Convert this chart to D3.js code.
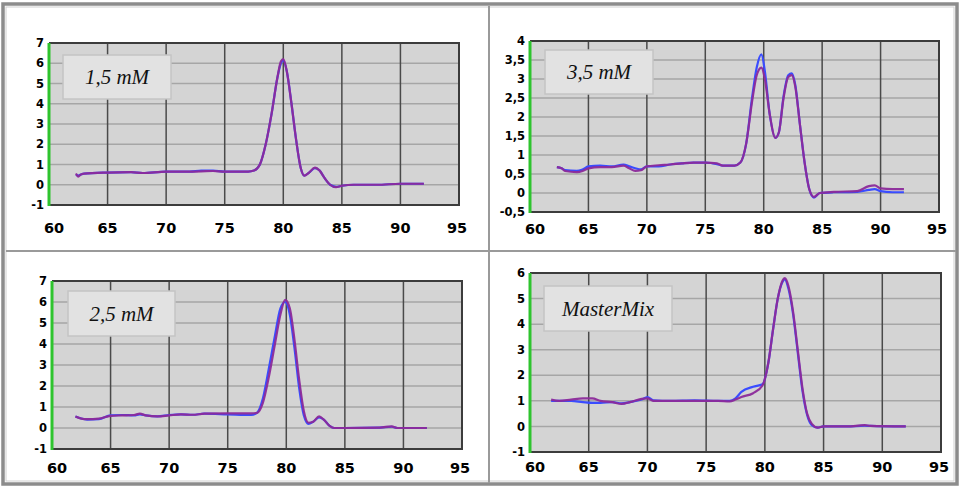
<!DOCTYPE html>
<html>
<head>
<meta charset="utf-8">
<script src="https://cdnjs.cloudflare.com/ajax/libs/d3/7.8.5/d3.min.js"></script>
<style>
  body { margin: 0; background: #fff; }
  svg { display: block; }
  .lbl { font-family: "Liberation Serif", "Times New Roman", serif; font-style: italic; font-size: 21px; fill: #111; }
  svg text.tky { font-family: "DejaVu Sans", Verdana, sans-serif; font-weight: bold; font-size: 11.5px; fill: #000; }
  svg text.tkx { font-family: "DejaVu Sans", Verdana, sans-serif; font-weight: bold; font-size: 14.5px; fill: #000; }
</style>
</head>
<body>
<div id="chart"></div>
<script>
// x axis ticks shared by all four panels
var xTicks = [60, 65, 70, 75, 80, 85, 90, 95];

// 1,5 mM
var t15 = [62.3, 62.5, 62.7, 63, 65, 67, 68, 70, 72, 73, 74, 75, 77, 77.5, 78, 78.5, 79, 79.5, 79.8, 80, 80.3, 80.7, 81.1, 81.5, 81.8, 82.2, 82.7, 83.1, 83.5, 84, 84.5, 85, 86, 88, 90, 92];
var p15 = [0.55, 0.4, 0.5, 0.55, 0.6, 0.62, 0.58, 0.65, 0.65, 0.66, 0.68, 0.65, 0.65, 0.7, 1.0, 2.0, 3.5, 5.3, 6.1, 6.2, 5.6, 4.0, 2.2, 0.8, 0.45, 0.6, 0.85, 0.7, 0.35, 0.0, -0.12, -0.05, 0.0, 0.0, 0.05, 0.05];
var b15 = [0.5, 0.45, 0.5, 0.55, 0.6, 0.62, 0.58, 0.65, 0.65, 0.7, 0.7, 0.65, 0.65, 0.7, 1.0, 2.0, 3.5, 5.3, 6.0, 6.15, 5.6, 4.0, 2.2, 0.8, 0.45, 0.6, 0.82, 0.7, 0.35, 0.0, -0.1, -0.05, 0.0, 0.0, 0.05, 0.05];

// 3,5 mM
var t35 = [62.3, 62.7, 63, 64, 64.5, 65, 66, 67, 68, 68.5, 69, 69.5, 70, 71, 72, 73, 74, 75, 76, 76.5, 77.5, 78, 78.5, 79, 79.4, 79.8, 80.1, 80.5, 81, 81.3, 81.7, 82.1, 82.4, 82.7, 83.1, 83.5, 83.9, 84.3, 84.8, 86, 88, 89, 89.5, 90, 91, 92];
var p35 = [0.68, 0.65, 0.58, 0.55, 0.58, 0.65, 0.68, 0.68, 0.72, 0.65, 0.58, 0.6, 0.7, 0.73, 0.75, 0.78, 0.8, 0.8, 0.78, 0.72, 0.72, 0.8, 1.3, 2.4, 3.1, 3.3, 3.0, 2.1, 1.45, 1.6, 2.5, 3.05, 3.1, 2.8, 1.8, 0.8, 0.1, -0.1, 0.0, 0.03, 0.05, 0.18, 0.2, 0.12, 0.1, 0.1];
var b35 = [0.68, 0.65, 0.6, 0.58, 0.62, 0.7, 0.72, 0.7, 0.75, 0.7, 0.65, 0.62, 0.7, 0.7, 0.75, 0.78, 0.8, 0.8, 0.76, 0.72, 0.72, 0.8, 1.3, 2.5, 3.3, 3.65, 3.2, 2.1, 1.45, 1.6, 2.55, 3.1, 3.15, 2.85, 1.8, 0.8, 0.1, -0.12, 0.0, 0.02, 0.03, 0.08, 0.1, 0.05, 0.02, 0.02];

// 2,5 mM
var t25 = [62, 62.5, 63, 64, 65, 66, 67, 67.5, 68, 69, 70, 71, 72, 73, 75, 77, 77.5, 78, 78.5, 79, 79.5, 79.9, 80.3, 80.7, 81.1, 81.5, 81.9, 82.3, 82.8, 83.2, 83.7, 84.1, 85, 88, 89, 89.5, 92];
var p25 = [0.55, 0.45, 0.42, 0.45, 0.58, 0.6, 0.62, 0.68, 0.6, 0.55, 0.6, 0.65, 0.63, 0.68, 0.7, 0.7, 0.72, 1.2, 2.4, 3.9, 5.4, 6.1, 5.7, 4.2, 2.3, 0.8, 0.25, 0.3, 0.55, 0.4, 0.1, 0.0, 0.0, 0.02, 0.08, 0.0, 0.0];
var b25 = [0.55, 0.45, 0.4, 0.42, 0.6, 0.62, 0.6, 0.65, 0.6, 0.55, 0.62, 0.65, 0.63, 0.68, 0.65, 0.62, 0.72, 1.4, 2.8, 4.3, 5.7, 6.0, 5.4, 3.8, 1.9, 0.6, 0.2, 0.3, 0.5, 0.4, 0.1, 0.0, 0.0, 0.02, 0.06, 0.0, 0.0];

// MasterMix
var tMM = [61.8, 62.5, 63.5, 64.5, 65.3, 66, 67, 67.8, 68.5, 69.5, 70, 70.5, 72, 74, 76, 77, 77.5, 78, 79, 79.8, 80.3, 80.7, 81.1, 81.5, 81.7, 82, 82.4, 82.8, 83.2, 83.6, 84, 84.5, 85, 87, 88.5, 89, 92];
var pMM = [1.05, 1.0, 1.05, 1.1, 1.1, 1.0, 0.95, 0.88, 0.95, 1.08, 1.1, 1.0, 1.0, 1.0, 1.0, 0.98, 1.05, 1.15, 1.3, 1.6, 2.5, 3.8, 5.0, 5.7, 5.8, 5.5, 4.5, 3.0, 1.5, 0.5, 0.1, -0.05, 0.0, 0.0, 0.05, 0.02, 0.0];
var bMM = [1.0, 1.0, 1.0, 0.95, 0.92, 0.92, 0.95, 0.9, 0.95, 1.05, 1.15, 1.02, 1.0, 1.02, 1.0, 1.0, 1.1, 1.35, 1.55, 1.65, 2.5, 3.8, 5.0, 5.65, 5.75, 5.4, 4.4, 2.9, 1.4, 0.45, 0.05, -0.05, 0.0, 0.0, 0.03, 0.02, 0.0];

var yTicks15 = [-1, 0, 1, 2, 3, 4, 5, 6, 7];
var yTicks35 = [-0.5, 0, 0.5, 1, 1.5, 2, 2.5, 3, 3.5, 4];
var yTicksMM = [-1, 0, 1, 2, 3, 4, 5, 6];

var panels = [
  {name: "1,5 mM", t: t15, p: p15, b: b15, ticks: yTicks15, x: 49, y: 43, w: 410, h: 162, labGap: 23, box: [63, 55, 108, 44]},
  {name: "3,5 mM", t: t35, p: p35, b: b35, ticks: yTicks35, x: 530, y: 41, w: 409, h: 171, labGap: 17, box: [545, 50, 108, 44]},
  {name: "2,5 mM", t: t25, p: p25, b: b25, ticks: yTicks15, x: 52, y: 281, w: 410, h: 168, labGap: 19, box: [68, 291, 107, 45]},
  {name: "MasterMix", t: tMM, p: pMM, b: bMM, ticks: yTicksMM, x: 530, y: 273, w: 411, h: 179, labGap: 15, box: [544, 286, 128, 45]}
];

var W = 960, H = 487;
var svg = d3.select("#chart").append("svg").attr("width", W).attr("height", H);

// frame and dividers
svg.append("rect").attr("x", 3).attr("y", 4).attr("width", W - 6).attr("height", H - 7)
  .attr("fill", "none").attr("stroke", "#8c8c8c").attr("stroke-width", 3.5);
svg.append("rect").attr("x", 6).attr("y", 7).attr("width", W - 12).attr("height", H - 13)
  .attr("fill", "none").attr("stroke", "#d0d0d0").attr("stroke-width", 1);
svg.append("line").attr("x1", 489).attr("x2", 489).attr("y1", 6).attr("y2", H - 4)
  .attr("stroke", "#9a9a9a").attr("stroke-width", 2);
svg.append("line").attr("x1", 6).attr("x2", W - 4).attr("y1", 251).attr("y2", 251)
  .attr("stroke", "#9a9a9a").attr("stroke-width", 2);

function fmt(d) { return String(d).replace(".", ","); }

panels.forEach(function(pn) {
  var x = d3.scaleLinear().domain([60, 95]).range([pn.x, pn.x + pn.w]);
  var y = d3.scaleLinear().domain(d3.extent(pn.ticks)).range([pn.y + pn.h, pn.y]);
  var g = svg.append("g");

  g.append("rect").attr("x", pn.x).attr("y", pn.y).attr("width", pn.w).attr("height", pn.h)
    .attr("fill", "#d4d4d4");

  // horizontal grid
  g.selectAll(".hg").data(pn.ticks).enter().append("line")
    .attr("x1", pn.x).attr("x2", pn.x + pn.w)
    .attr("y1", function(d) { return y(d); }).attr("y2", function(d) { return y(d); })
    .attr("stroke", "#a6a6a6").attr("stroke-width", 1.5);
  // vertical grid
  g.selectAll(".vg").data(xTicks).enter().append("line")
    .attr("x1", function(d) { return x(d); }).attr("x2", function(d) { return x(d); })
    .attr("y1", pn.y).attr("y2", pn.y + pn.h)
    .attr("stroke", "#4a4a4a").attr("stroke-width", 1.5);

  // plot border (top, right, bottom)
  g.append("path")
    .attr("d", "M" + pn.x + "," + pn.y + "H" + (pn.x + pn.w) + "V" + (pn.y + pn.h) + "H" + pn.x)
    .attr("fill", "none").attr("stroke", "#3c3c3c").attr("stroke-width", 2);

  // label box
  g.append("rect").attr("x", pn.box[0]).attr("y", pn.box[1]).attr("width", pn.box[2]).attr("height", pn.box[3])
    .attr("fill", "#e2e2e2").attr("stroke", "#c4c4c4").attr("stroke-width", 1.5);
  g.append("text").attr("class", "lbl")
    .attr("x", pn.box[0] + pn.box[2] / 2).attr("y", pn.box[1] + pn.box[3] / 2 + 7)
    .attr("text-anchor", "middle").text(pn.name);

  // curves
  var line = d3.line()
    .x(function(d, i) { return x(pn.t[i]); })
    .y(function(d) { return y(d); })
    .curve(d3.curveMonotoneX);
  g.append("path").datum(pn.b).attr("d", line)
    .attr("fill", "none").attr("stroke", "#3a4cff").attr("stroke-width", 2.2);
  g.append("path").datum(pn.p).attr("d", line)
    .attr("fill", "none").attr("stroke", "#8c2a9a").attr("stroke-width", 2.2).attr("stroke-opacity", 0.95);

  // green y axis line
  g.append("line").attr("x1", pn.x).attr("x2", pn.x).attr("y1", pn.y).attr("y2", pn.y + pn.h + 1)
    .attr("stroke", "#2ec42e").attr("stroke-width", 3);

  // y axis labels
  g.selectAll(".yl").data(pn.ticks).enter().append("text")
    .attr("class", "tky")
    .attr("x", pn.x - 5)
    .attr("y", function(d) { return y(d); })
    .attr("dy", "0.36em")
    .attr("text-anchor", "end")
    .text(fmt);

  // x axis labels
  g.selectAll(".xl").data(xTicks).enter().append("text")
    .attr("class", "tkx")
    .attr("x", function(d) { return x(d) + (d === 60 ? 5 : (d === 95 ? -2 : 0)); })
    .attr("y", pn.y + pn.h + pn.labGap)
    .attr("dy", "0.36em")
    .attr("text-anchor", "middle")
    .text(function(d) { return d; });
});
</script>
</body>
</html>
